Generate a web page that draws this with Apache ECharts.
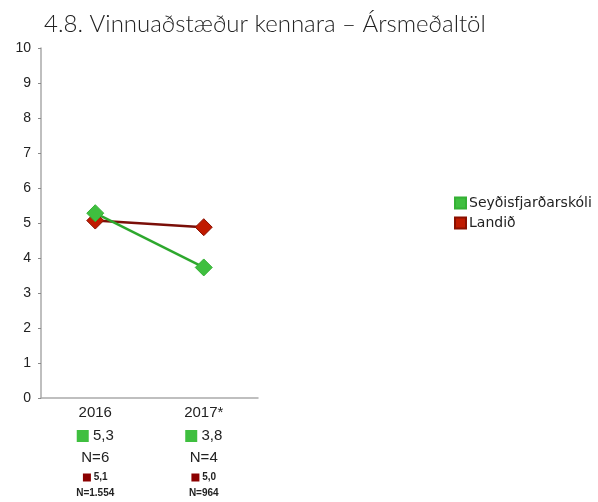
<!DOCTYPE html>
<html><head><meta charset="utf-8">
<script src="https://cdn.jsdelivr.net/npm/echarts@6/dist/echarts.min.js"></script>
<style>html,body{margin:0;padding:0;background:#fff}#c{width:598px;height:502px}</style>
</head><body><div id="c"></div>
<script>
var categories = ['2016', '2017*'];
var seriesNames = ['Seyðisfjarðarskóli', 'Landið'];
var schoolValues = [5.28, 3.73];
var nationalValues = [5.07, 4.88];
var schoolLabels = ['5,3', '3,8'];
var schoolN = ['N=6', 'N=4'];
var nationalLabels = ['5,1', '5,0'];
var nationalN = ['N=1.554', 'N=964'];
var yTicks = [0,1,2,3,4,5,6,7,8,9,10];

var green = '#3fbf3f', greenLine = '#2ea82e', red = '#c01a00', redLine = '#7a0e08';
var chart = echarts.init(document.getElementById('c'));
chart.setOption({
  animation: false,
  title: {
    text: '4.8. Vinnuaðstæður kennara – Ársmeðaltöl',
    left: 39, top: 7,
    textStyle: {fontFamily: 'Lato', fontWeight: 300, fontSize: 24, color: '#222'}
  },
  legend: {
    orient: 'vertical', left: 449, top: 191, itemGap: 6,
    itemWidth: 11, itemHeight: 11, icon: 'rect',
    textStyle: {fontFamily: 'DejaVu Sans', fontSize: 14, color: '#222', padding: [0,0,0,-2]},
    data: [
      {name: seriesNames[0], itemStyle: {color: green}},
      {name: seriesNames[1], itemStyle: {color: red}}
    ]
  },
  grid: {left: 41, top: 48, width: 217, height: 350},
  xAxis: {
    type: 'category', data: categories, boundaryGap: true,
    axisLine: {lineStyle: {color: '#aaa', width: 1.5}},
    axisTick: {show: false},
    axisLabel: {
      margin: 3, interval: 0,
      formatter: function (v, i) {
        return '{c|' + v + '}\n{gs|}{gv| ' + schoolLabels[i] + '}\n{n|' + schoolN[i] + '}\n{rs|}{rv| ' + nationalLabels[i] + '}\n{sn|' + nationalN[i] + '}';
      },
      rich: {
        c: {fontFamily: 'Liberation Sans', fontSize: 15, color: '#222', lineHeight: 24},
        gs: {backgroundColor: green, width: 12, height: 12, lineHeight: 22},
        gv: {fontFamily: 'Liberation Sans', fontSize: 15, color: '#222', lineHeight: 22},
        n: {fontFamily: 'Liberation Sans', fontSize: 15, color: '#222', lineHeight: 21},
        rs: {backgroundColor: '#8b0000', width: 8, height: 8, lineHeight: 19},
        rv: {fontFamily: 'Liberation Sans', fontSize: 10, fontWeight: 'bold', color: '#222', lineHeight: 19},
        sn: {fontFamily: 'Liberation Sans', fontSize: 10, fontWeight: 'bold', color: '#222', lineHeight: 13}
      }
    }
  },
  yAxis: {
    type: 'value', min: 0, max: 10, interval: 1,
    splitLine: {show: false},
    axisLine: {show: true, lineStyle: {color: '#aaa', width: 1.5}},
    axisTick: {show: true, length: 3, lineStyle: {color: '#888'}},
    axisLabel: {fontFamily: 'Liberation Sans', fontSize: 14, color: '#222', margin: 10,
      formatter: function (v) { return yTicks.indexOf(v) >= 0 ? String(v) : ''; }}
  },
  series: [
    {
      name: seriesNames[1], type: 'line', data: nationalValues,
      symbol: 'diamond', symbolSize: 17,
      lineStyle: {color: redLine, width: 2.5},
      itemStyle: {color: red, borderColor: '#8a1000', borderWidth: 1}
    },
    {
      name: seriesNames[0], type: 'line', data: schoolValues,
      symbol: 'diamond', symbolSize: 17,
      lineStyle: {color: greenLine, width: 2.5},
      itemStyle: {color: green, borderColor: '#35b035', borderWidth: 1}
    }
  ]
});
</script></body></html>
